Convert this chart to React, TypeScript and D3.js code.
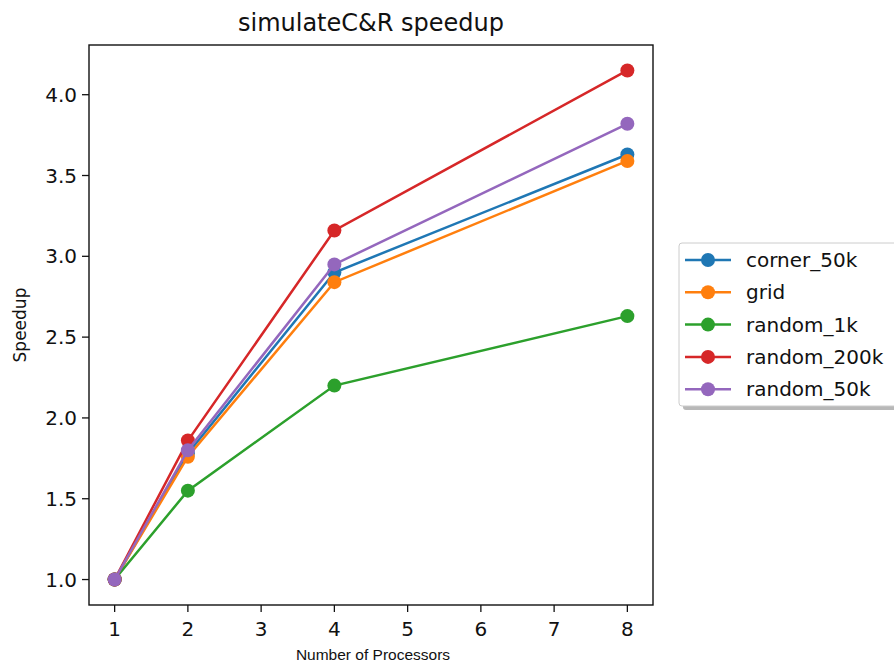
import React from "react";
import * as d3 from "d3";

// chart values
const processors = [1, 2, 4, 8];
const seriesNames = ["corner_50k", "grid", "random_1k", "random_200k", "random_50k"];
const corner50k = [1.0, 1.78, 2.9, 3.63];
const grid = [1.0, 1.76, 2.84, 3.59];
const random1k = [1.0, 1.55, 2.2, 2.63];
const random200k = [1.0, 1.86, 3.16, 4.15];
const random50k = [1.0, 1.8, 2.95, 3.82];
const colors = ["#1f77b4", "#ff7f0e", "#2ca02c", "#d62728", "#9467bd"];
const xTicks = [1, 2, 3, 4, 5, 6, 7, 8];
const yTicks = [1.0, 1.5, 2.0, 2.5, 3.0, 3.5, 4.0];

const W = 894;
const H = 663;
const plot = { left: 89, right: 653, top: 45, bottom: 605 };

export default function App() {
  const allSeries = [corner50k, grid, random1k, random200k, random50k];

  const x = d3.scaleLinear().domain([0.65, 8.35]).range([plot.left, plot.right]);
  const y = d3.scaleLinear().domain([0.8425, 4.3075]).range([plot.bottom, plot.top]);

  const line = d3
    .line<number>()
    .x((_, i) => x(processors[i]))
    .y((d) => y(d));

  const font = "'DejaVu Sans', sans-serif";

  // legend placement
  const legX = 679;
  const legY = 243;
  const rowH = 32.3;

  return (
    <div style={{ position: "absolute", left: 0, top: 0 }}>
      <svg width={W} height={H} style={{ display: "block", background: "#fff" }}>
        <text x={(plot.left + plot.right) / 2} y={31} textAnchor="middle" fontFamily={font} fontSize={24} fill="#111">
          simulateC&amp;R speedup
        </text>

        {/* lines and markers */}
        {allSeries.map((s, si) => (
          <g key={seriesNames[si]}>
            <path d={line(s) || ""} fill="none" stroke={colors[si]} strokeWidth={2.5} />
            {s.map((v, i) => (
              <circle key={i} cx={x(processors[i])} cy={y(v)} r={7} fill={colors[si]} />
            ))}
          </g>
        ))}

        {/* frame */}
        <rect
          x={plot.left}
          y={plot.top}
          width={plot.right - plot.left}
          height={plot.bottom - plot.top}
          fill="none"
          stroke="#111"
          strokeWidth={1.4}
        />

        {/* x axis */}
        {xTicks.map((t) => (
          <g key={t}>
            <line x1={x(t)} x2={x(t)} y1={plot.bottom} y2={plot.bottom + 7} stroke="#111" strokeWidth={1.3} />
            <text x={x(t)} y={plot.bottom + 31} textAnchor="middle" fontFamily={font} fontSize={20} fill="#111">
              {t}
            </text>
          </g>
        ))}
        <text x={373} y={660} textAnchor="middle" fontFamily="'Liberation Sans', Arial, sans-serif" fontSize={15.5} fill="#111">
          Number of Processors
        </text>

        {/* y axis */}
        {yTicks.map((t) => (
          <g key={t}>
            <line x1={plot.left - 7} x2={plot.left} y1={y(t)} y2={y(t)} stroke="#111" strokeWidth={1.3} />
            <text x={plot.left - 12} y={y(t) + 7} textAnchor="end" fontFamily={font} fontSize={20} fill="#111">
              {t.toFixed(1)}
            </text>
          </g>
        ))}
        <text
          transform={`translate(26,${(plot.top + plot.bottom) / 2}) rotate(-90)`}
          textAnchor="middle"
          fontFamily={font}
          fontSize={17}
          fill="#111"
        >
          Speedup
        </text>

        {/* legend with shadow */}
        <rect x={legX + 4} y={legY + 4} width={240} height={163} rx={3} fill="#888" opacity={0.6} />
        <rect x={legX} y={legY} width={240} height={163} rx={3} fill="#fff" stroke="#ccc" strokeWidth={1} />
        {seriesNames.map((name, i) => {
          const cy = legY + 17 + i * rowH;
          return (
            <g key={name}>
              <line x1={legX + 6} x2={legX + 52} y1={cy} y2={cy} stroke={colors[i]} strokeWidth={2.5} />
              <circle cx={legX + 29} cy={cy} r={7} fill={colors[i]} />
              <text x={legX + 67} y={cy + 7} fontFamily={font} fontSize={20} fill="#111">
                {name}
              </text>
            </g>
          );
        })}
      </svg>
    </div>
  );
}
